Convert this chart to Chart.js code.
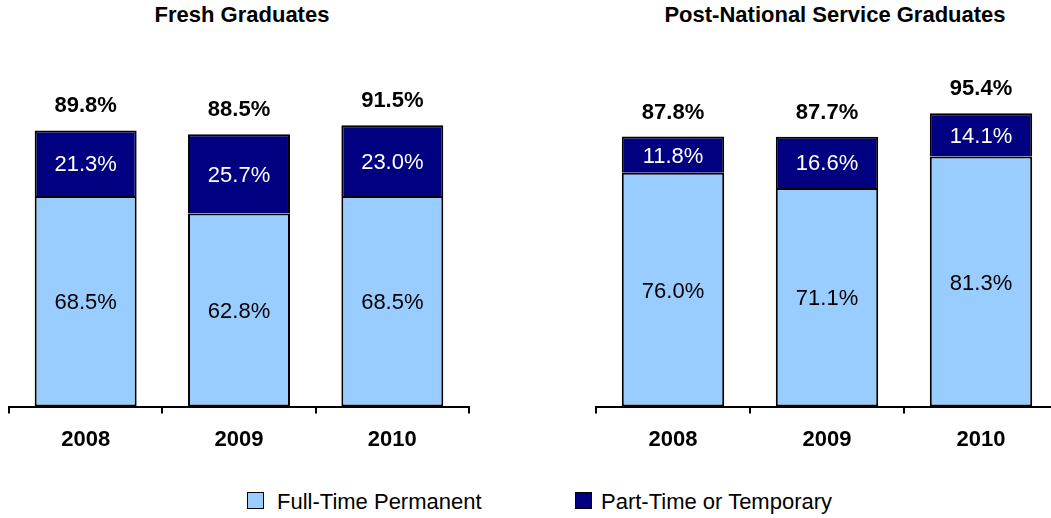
<!DOCTYPE html>
<html>
<head>
<meta charset="utf-8">
<script src="https://cdn.jsdelivr.net/npm/chart.js@4/dist/chart.umd.min.js"></script>
<style>
  html, body { margin: 0; padding: 0; background: #fff; }
  body { width: 1051px; height: 518px; overflow: hidden; position: relative;
         font-family: "Liberation Sans", Arial, sans-serif; }
  canvas { position: absolute; top: 0; }
  .title { position: absolute; top: 4px; font-weight: bold; font-size: 22px; line-height: 22px;
           white-space: nowrap; transform: translateX(-50%); color: #000; }
  .lg-box { position: absolute; width: 15px; height: 15px; border: 1.5px solid #000; top: 492px; }
  .lg-text { position: absolute; top: 491px; font-size: 22px; line-height: 22px; white-space: nowrap; color: #000; }
</style>
</head>
<body>
<div class="title" style="left:242px">Fresh Graduates</div>
<div class="title" style="left:835px">Post-National Service Graduates</div>
<canvas id="c1" width="478" height="466" style="left:0px"></canvas>
<canvas id="c2" width="480" height="466" style="left:587px"></canvas>
<div class="lg-box" style="left:247px;background:#99CCFF"></div>
<div class="lg-text" style="left:277px">Full-Time Permanent</div>
<div class="lg-box" style="left:575px;background:#000080"></div>
<div class="lg-text" style="left:601px">Part-Time or Temporary</div>
<script>
const categories = ["2008", "2009", "2010"];
const seriesNames = ["Full-Time Permanent", "Part-Time or Temporary"];
const freshFullTime = [68.5, 62.8, 68.5];
const freshPartTime = [21.3, 25.7, 23.0];
const freshTotals = [89.8, 88.5, 91.5];
const nsFullTime = [76.0, 71.1, 81.3];
const nsPartTime = [11.8, 16.6, 14.1];
const nsTotals = [87.8, 87.7, 95.4];

const FONT = '"Liberation Sans", Arial, sans-serif';
const COLORS = ["#99CCFF", "#000080"];
const LABEL_COLORS = ["#000000", "#FFFFFF"];

const labelPlugin = {
  id: 'barLabels',
  afterDatasetsDraw(chart, args, opts) {
    const ctx = chart.ctx;
    ctx.save();
    ctx.textAlign = 'center';
    ctx.textBaseline = 'alphabetic';
    chart.data.datasets.forEach((ds, di) => {
      const meta = chart.getDatasetMeta(di);
      ctx.font = '22px ' + FONT;
      ctx.fillStyle = LABEL_COLORS[di];
      meta.data.forEach((bar, i) => {
        const mid = (bar.y + bar.base) / 2;
        ctx.fillText(ds.data[i].toFixed(1) + '%', bar.x, mid + 8);
      });
    });
    const topMeta = chart.getDatasetMeta(chart.data.datasets.length - 1);
    ctx.font = 'bold 22px ' + FONT;
    ctx.fillStyle = '#000';
    topMeta.data.forEach((bar, i) => {
      ctx.fillText(opts.totals[i].toFixed(1) + '%', bar.x, bar.y - 18);
    });
    ctx.restore();
  }
};

function makeChart(id, full, part, totals) {
  return new Chart(document.getElementById(id), {
    type: 'bar',
    data: {
      labels: categories,
      datasets: [
        { label: seriesNames[0], data: full, backgroundColor: COLORS[0], borderColor: '#000', borderWidth: 2, borderSkipped: false },
        { label: seriesNames[1], data: part, backgroundColor: COLORS[1], borderColor: '#000', borderWidth: 2, borderSkipped: 'bottom' }
      ]
    },
    options: {
      responsive: false,
      animation: false,
      events: [],
      barPercentage: 0.665,
      categoryPercentage: 1.0,
      layout: { padding: { left: 9, right: 9, top: 99, bottom: 0 } },
      plugins: {
        legend: { display: false },
        tooltip: { enabled: false },
        title: { display: false },
        barLabels: { totals: totals }
      },
      scales: {
        x: {
          stacked: true,
          offset: true,
          grid: { offset: true, drawOnChartArea: false, drawTicks: true, tickLength: 7, color: '#000', lineWidth: 2 },
          border: { display: true, color: '#000', width: 2 },
          ticks: { color: '#000', padding: 13, font: { family: FONT, size: 22, weight: 'bold' } }
        },
        y: {
          stacked: true,
          display: false,
          min: 0,
          max: 100
        }
      }
    },
    plugins: [labelPlugin]
  });
}

makeChart('c1', freshFullTime, freshPartTime, freshTotals);
makeChart('c2', nsFullTime, nsPartTime, nsTotals);
</script>
</body>
</html>
